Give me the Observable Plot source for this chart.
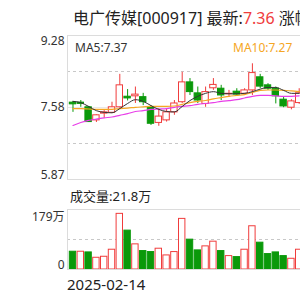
<!DOCTYPE html>
<html><head><meta charset="utf-8">
<script src="https://cdn.jsdelivr.net/npm/d3@7"></script>
<script src="https://cdn.jsdelivr.net/npm/@observablehq/plot@0.6"></script>
<style>
html,body{margin:0;padding:0;background:#fff;overflow:hidden;width:300px;height:300px}
#root{position:relative;width:300px;height:300px;overflow:hidden;font-family:"Noto Sans","Noto Sans CJK SC",sans-serif;color:#333}
.abs{position:absolute;white-space:nowrap;line-height:1}
#price,#vol{position:absolute;left:0}
#price{top:34px}
#vol{top:208px}
</style></head><body><div id="root">
<div id="price"></div><div id="vol"></div>
</div>
<script>
// ---- data ----
const stockName = "电广传媒[000917]";
const latestLabel = "最新:";
const latestValue = "7.36";
const changeLabel = "涨幅";
const ma5Label = "MA5:7.37";
const ma10Label = "MA10:7.27";
const volLabel = "成交量:21.8万";
const priceTicks = [9.28, 7.58, 5.87];
const volTicks = [179, 0];
const volTickLabels = ["179万", "0"];
const dateLabels = ["2025-02-14"];

const open  = [7.69,7.69,7.58,7.27,7.43,7.45,7.58,7.83,7.84,7.82,7.58,7.21,7.27,7.46,7.70,8.17,7.91,7.66,8.03,8.02,7.89,7.95,7.90,7.98,8.29,8.10,8.02,7.76,7.57,7.68];
const close = [7.65,7.66,7.23,7.39,7.46,7.58,8.10,7.79,7.88,7.70,7.19,7.36,7.46,7.67,8.17,7.94,7.74,7.94,8.11,7.86,7.90,7.88,7.98,8.39,8.07,8.02,7.84,7.60,7.72,7.91];
const high  = [7.72,7.74,7.60,7.40,7.50,7.70,8.36,8.00,8.06,7.91,7.62,7.55,7.55,7.74,8.41,8.26,8.06,8.06,8.26,8.10,7.98,8.02,8.02,8.61,8.36,8.14,8.06,7.82,7.76,8.02];
const low   = [7.46,7.58,7.22,7.22,7.32,7.43,7.56,7.73,7.67,7.62,7.15,7.13,7.23,7.39,7.67,7.86,7.67,7.58,7.98,7.74,7.82,7.86,7.86,7.86,8.02,7.98,7.66,7.57,7.52,7.65];
const volume = [53,53,51,35,38,59,166,116,75,55,52,62,42,52,151,89,57,69,83,55,40,37,59,129,80,46,51,40,32,59];
const volUp  = [0,1,0,1,1,1,1,0,1,0,0,1,1,1,1,0,0,1,1,0,1,0,1,1,0,0,0,0,1,1];
const ma5  = [7.72,7.69,7.60,7.50,7.46,7.45,7.55,7.67,7.76,7.72,7.62,7.53,7.48,7.47,7.60,7.74,7.84,7.91,7.95,7.91,7.90,7.90,7.91,7.95,8.01,8.05,8.05,7.98,7.91,7.91];
const ma10 = [7.55,7.55,7.54,7.53,7.53,7.53,7.55,7.56,7.58,7.59,7.60,7.60,7.60,7.61,7.65,7.69,7.72,7.74,7.78,7.81,7.84,7.86,7.88,7.93,7.98,7.99,7.99,7.98,7.97,7.95];
const ma20 = [7.15,7.22,7.27,7.30,7.33,7.35,7.39,7.43,7.48,7.50,7.53,7.54,7.55,7.58,7.60,7.62,7.65,7.67,7.69,7.72,7.74,7.76,7.80,7.84,7.86,7.86,7.85,7.84,7.84,7.85];

// ---- styles ----
const RED = "#f03c3c", GREEN = "#0a990a";
const C5 = "#333333", C10 = "#f5a623", C20 = "#e83ee8";
const GRID = "#dcdcdc";
const xDomain = [-0.705, 29.167];

const idx = d3.range(open.length);
const candles = idx.map(i => ({i, o: open[i], c: close[i], h: high[i], l: low[i], up: close[i] >= open[i]}));
const vols = idx.map(i => ({i, v: volume[i], up: volUp[i] === 1}));
const maRows = (arr) => idx.map(i => ({i, v: arr[i]}));
const FONT = '"Noto Sans","Noto Sans CJK SC",sans-serif';

const pMin = priceTicks[2], pMax = priceTicks[0];
const priceChart = Plot.plot({
  width: 300, height: 146, marginTop: 1, marginBottom: 1, marginLeft: 67, marginRight: 0,
  x: {type: "linear", domain: xDomain, axis: null},
  y: {domain: [pMin, pMax], axis: null},
  color: {type: "identity"},
  style: {background: "transparent", fontFamily: FONT, overflow: "visible"},
  marks: [
    Plot.ruleY([pMax - (pMax - pMin) / 4, pMin + (pMax - pMin) / 4], {stroke: "#c8c8c8", strokeDasharray: "3,3"}),
    Plot.ruleY([(pMax + pMin) / 2], {stroke: "#e8e8e8"}),
    Plot.ruleY([pMin, pMax], {stroke: GRID}),
    Plot.ruleX([xDomain[0]], {stroke: GRID}),
    Plot.ruleX(candles, {x: "i", y1: "l", y2: "h", stroke: d => d.up ? RED : GREEN, strokeWidth: 1}),
    Plot.rect(candles, {x1: d => d.i - 0.41, x2: d => d.i + 0.41, y1: "o", y2: "c", fill: d => d.up ? "#fff" : GREEN, stroke: d => d.up ? RED : GREEN, strokeWidth: 1}),
    Plot.line(maRows(ma20), {x: "i", y: "v", stroke: C20, strokeWidth: 1.2, curve: "monotone-x"}),
    Plot.line(maRows(ma10), {x: "i", y: "v", stroke: C10, strokeWidth: 1.2, curve: "monotone-x"}),
    Plot.line(maRows(ma5), {x: "i", y: "v", stroke: C5, strokeWidth: 1, curve: "monotone-x"}),
    Plot.text([priceTicks[0]], {x: xDomain[0], y: d => d, text: d => d.toFixed(2), textAnchor: "end", lineAnchor: "top", dx: -3, dy: 1, fontSize: 12, fill: "#333"}),
    Plot.text([priceTicks[1]], {x: xDomain[0], y: d => d, text: d => d.toFixed(2), textAnchor: "end", lineAnchor: "middle", dx: -3, fontSize: 12, fill: "#333"}),
    Plot.text([priceTicks[2]], {x: xDomain[0], y: d => d, text: d => d.toFixed(2), textAnchor: "end", lineAnchor: "bottom", dx: -3, dy: -1, fontSize: 12, fill: "#333"})
  ]
});
document.getElementById("price").appendChild(priceChart);

const volChart = Plot.plot({
  width: 300, height: 62, marginTop: 1, marginBottom: 1, marginLeft: 67, marginRight: 0,
  x: {type: "linear", domain: xDomain, axis: null},
  y: {domain: [volTicks[1], volTicks[0]], axis: null},
  color: {type: "identity"},
  style: {background: "transparent", fontFamily: FONT, overflow: "visible"},
  marks: [
    Plot.ruleY([volTicks[0] / 2], {stroke: "#c8c8c8", strokeDasharray: "3,3"}),
    Plot.ruleY([volTicks[0]], {stroke: GRID}),
    Plot.ruleX([xDomain[0]], {stroke: GRID}),
    Plot.rect(vols, {x1: d => d.i - 0.41, x2: d => d.i + 0.41, y1: 0, y2: "v", fill: d => d.up ? "#fff" : GREEN, stroke: d => d.up ? RED : GREEN, strokeWidth: 1}),
    Plot.ruleY([volTicks[1]], {stroke: GRID}),
    Plot.text([0], {x: xDomain[0], y: volTicks[0], text: () => volTickLabels[0], textAnchor: "end", lineAnchor: "top", dx: -3, dy: 3, fontSize: 12, fill: "#333"}),
    Plot.text([0], {x: xDomain[0], y: volTicks[1], text: () => volTickLabels[1], textAnchor: "end", lineAnchor: "bottom", dx: -3, dy: -1, fontSize: 12, fill: "#333"})
  ]
});
document.getElementById("vol").appendChild(volChart);

// ---- text overlays ----
const root = document.getElementById("root");
function addText(html, left, top, size, color) {
  const d = document.createElement("div");
  d.className = "abs";
  d.style.left = left + "px"; d.style.top = top + "px";
  d.style.fontSize = size + "px"; d.style.color = color;
  d.innerHTML = html;
  root.appendChild(d);
  return d;
}
addText(`${stockName} ${latestLabel}<span style="color:#f03c3c">${latestValue}</span> ${changeLabel}`, 73, 10, 16, "#222");
addText(ma5Label, 75, 42, 12, "#333");
addText(ma10Label, 233, 42, 12, C10);
addText(volLabel, 70, 190, 13, "#222");
addText(dateLabels[0], 67, 277, 15, "#222");
</script></body></html>
